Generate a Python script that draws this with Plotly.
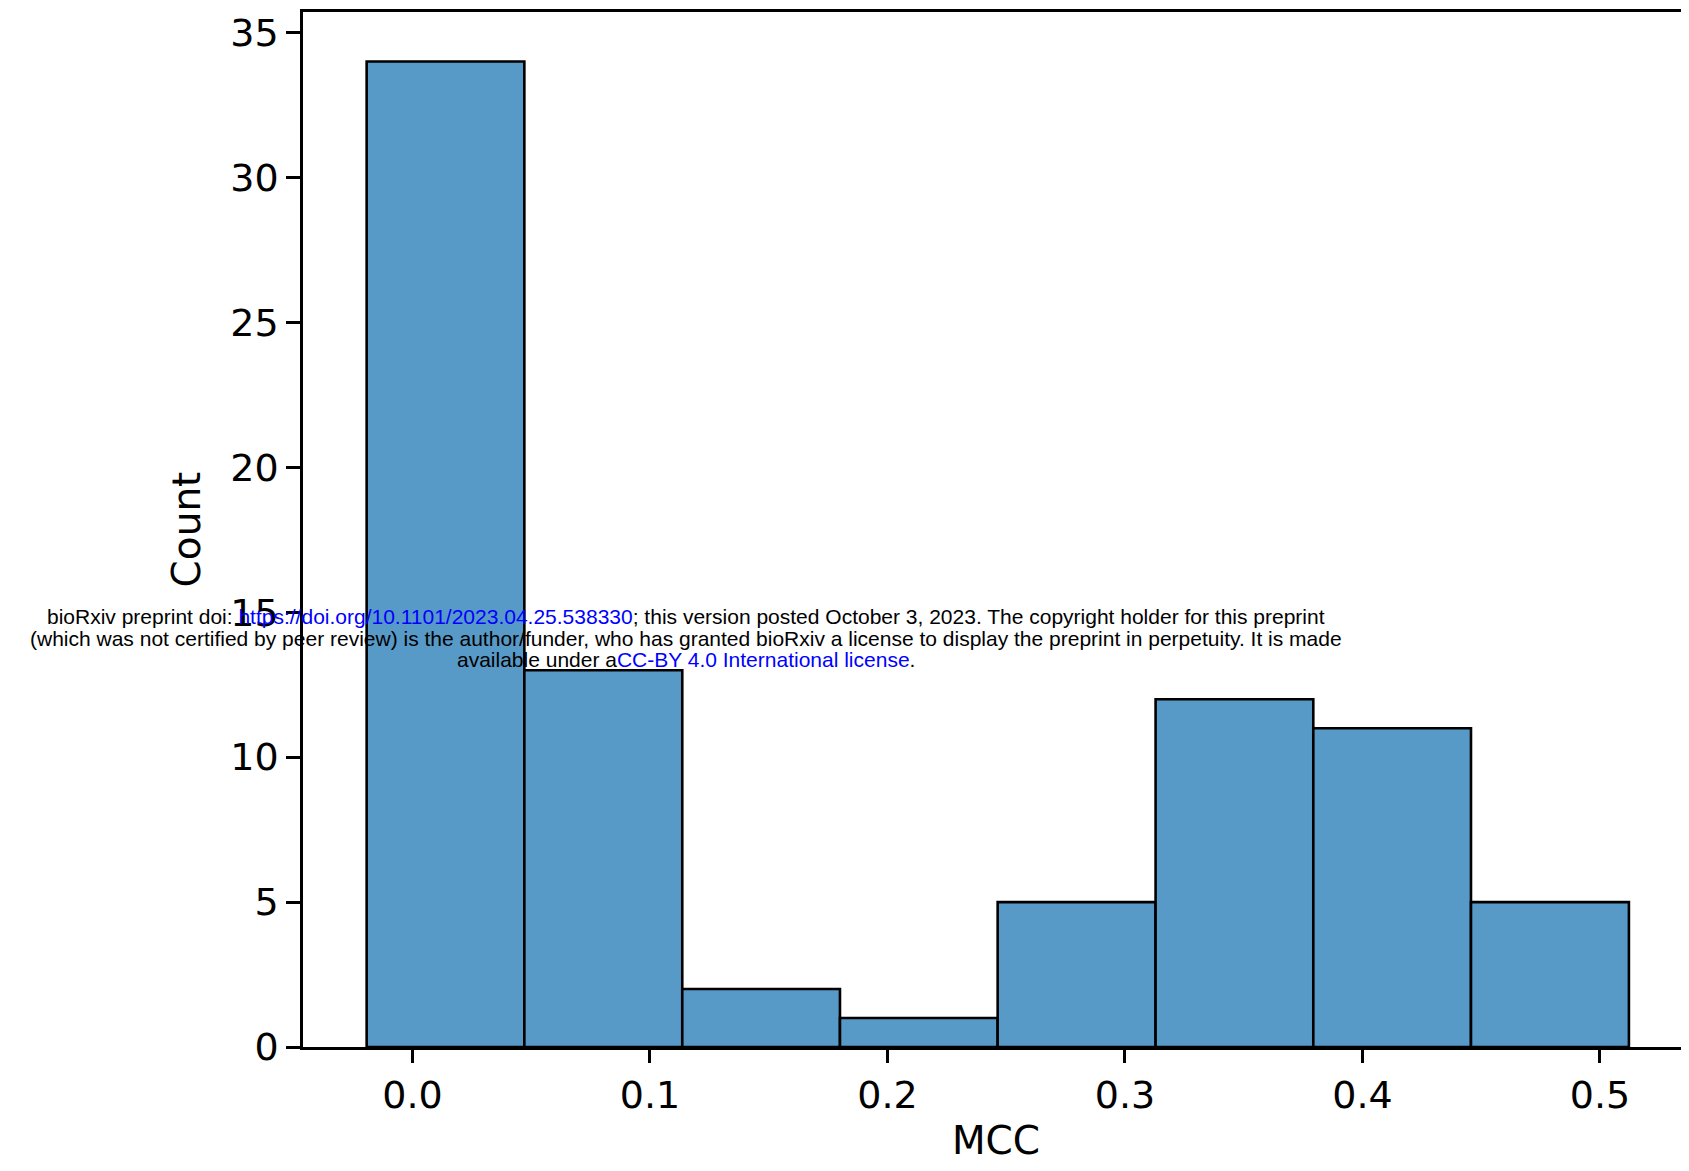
import plotly.graph_objects as go

# ---- data ----
bin_edges = [-0.0193, 0.0471, 0.1136, 0.1800, 0.2464, 0.3129, 0.3793, 0.4457, 0.5122]
counts = [34, 13, 2, 1, 5, 12, 11, 5]
x_tick_vals = [0.0, 0.1, 0.2, 0.3, 0.4, 0.5]
x_tick_text = ["0.0", "0.1", "0.2", "0.3", "0.4", "0.5"]
y_tick_vals = [0, 5, 10, 15, 20, 25, 30, 35]
y_tick_text = ["0", "5", "10", "15", "20", "25", "30", "35"]
x_label = "MCC"
y_label = "Count"
notice_lines = [
    'bioRxiv preprint doi: <span style="color:#0000ff">https://doi.org/10.1101/2023.04.25.538330</span>; this version posted October 3, 2023. The copyright holder for this preprint',
    '(which was not certified by peer review) is the author/funder, who has granted bioRxiv a license to display the preprint in perpetuity. It is made',
    'available under a<span style="color:#0000ff">CC-BY 4.0 International license</span>.',
]

centers = [(a + b) / 2 for a, b in zip(bin_edges[:-1], bin_edges[1:])]
widths = [b - a for a, b in zip(bin_edges[:-1], bin_edges[1:])]

# page body has an 8px margin; compensate and avoid scrollbars
OFF = 8
W, H = 1689 - OFF, 1171 - 2 * OFF
BOTTOM_AXIS_PX = 1047 - OFF
L, R, T = 303 - OFF, 0, 12 - OFF
B = H - BOTTOM_AXIS_PX

fig = go.Figure()
fig.add_trace(go.Bar(
    x=centers, y=counts, width=widths,
    marker=dict(color="#5799c7", line=dict(color="black", width=2.6)),
    showlegend=False,
))

tick_font = dict(family="DejaVu Sans", size=38, color="black")
title_font = dict(family="DejaVu Sans", size=39, color="black")
fig.update_layout(
    width=W, height=H,
    margin=dict(l=L, r=R, t=T, b=B, pad=0),
    paper_bgcolor="white", plot_bgcolor="white",
    font=dict(family="DejaVu Sans", color="black"),
    xaxis=dict(
        range=[-0.0461, 0.5375],
        tickmode="array", tickvals=x_tick_vals, ticktext=x_tick_text,
        ticks="outside", ticklen=13, tickwidth=2.5, tickcolor="black",
        showline=True, linecolor="black", linewidth=2.6, mirror=True,
        showgrid=False, zeroline=False,
        tickfont=tick_font,
        title=dict(text=x_label, font=title_font, standoff=12),
    ),
    yaxis=dict(
        range=[0, 35.71],
        tickmode="array", tickvals=y_tick_vals, ticktext=y_tick_text,
        ticks="outside", ticklen=14, tickwidth=2.5, tickcolor="black",
        showline=True, linecolor="black", linewidth=2.6, mirror=False,
        showgrid=False, zeroline=False,
        tickfont=tick_font,
        title=dict(text=y_label, font=title_font, standoff=18),
    ),
)

plot_w = W - L - R
plot_h = H - T - B
line_px_y = [617 - OFF, 638 - OFF, 659 - OFF]
center_px_x = 686 - OFF
for text, py in zip(notice_lines, line_px_y):
    fig.add_annotation(
        text=text, xref="paper", yref="paper",
        x=(center_px_x - L) / plot_w, y=(H - B - py) / plot_h,
        xanchor="center", yanchor="middle", showarrow=False,
        font=dict(family="Liberation Sans", size=21, color="black"),
    )

fig.write_html("out.html")
